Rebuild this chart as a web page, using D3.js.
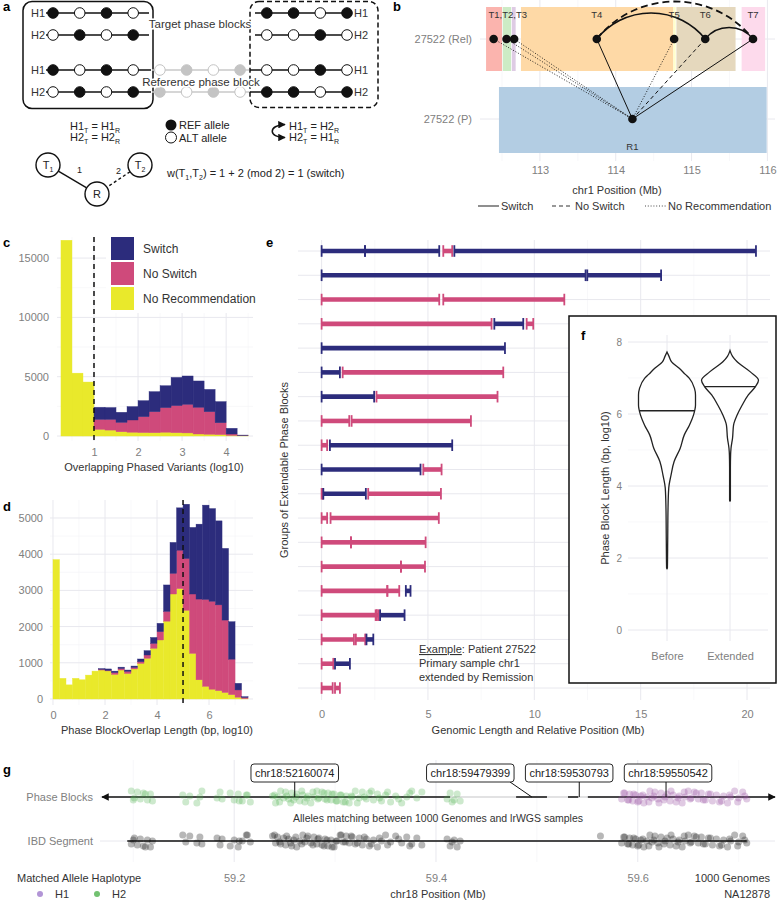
<!DOCTYPE html>
<html>
<head>
<meta charset="utf-8">
<script src="https://d3js.org/d3.v7.min.js"></script>
<style>
  body { margin: 0; background: #fff; }
  svg { font-family: "Liberation Sans", Arial, Helvetica, sans-serif; }
  .tick-label { fill: #808080; font-size: 11px; }
  .axis-title { fill: #333; font-size: 11px; }
  .tag { font-size: 13px; font-weight: bold; fill: #000; }
</style>
</head>
<body>
<svg id="fig" width="779" height="900"></svg>
<script>
// ---------------- data ----------------
// a: allele states per haplotype (1 = REF, 0 = ALT)
const aHapNames    = ["H1", "H2"];
const aTargetLeft  = ["1010", "0101"];
const aTargetRight = ["1101", "0010"];
const aRefLeft     = ["1010", "0101"];
const aRefMid      = ["0101", "1010"];
const aRefRight    = ["0010", "1101"];

// b: phase blocks on chr1 (Mb)
const bBlockNames = ["T1", "T2", "T3", "T4", "T5", "T6", "T7"];
const bBlockStart = [112.29, 112.51, 112.63, 112.75, 114.76, 114.80, 115.66];
const bBlockEnd   = [112.50, 112.62, 112.68, 114.76, 114.79, 115.58, 115.97];
const bBlockPos   = [112.39, 112.56, 112.66, 113.75, 114.77, 115.18, 115.81];
const bEdgeType   = ["norec", "norec", "norec", "switch", "norec", "noswitch", "switch"];
const bRef        = { name: "R1", start: 112.46, end: 115.99, pos: 114.22 };
const bArcs       = [["T4", "T6", "switch"], ["T6", "T7", "switch"], ["T4", "T7", "noswitch"]];
const bRows       = ["27522 (P)", "27522 (Rel)"];
const bTicks      = [113, 114, 115, 116];

// c: overlapping phased variants histogram (bin start, log10)
const cBins      = [0.25, 0.5, 0.75, 1.0, 1.25, 1.5, 1.75, 2.0, 2.25, 2.5, 2.75, 3.0, 3.25, 3.5, 3.75, 4.0, 4.25];
const cNoRec     = [16500, 5300, 4550, 560, 500, 360, 320, 290, 280, 320, 280, 260, 170, 150, 120, 50, 20];
const cNoSwitch  = [0, 0, 0, 840, 900, 790, 1030, 1340, 1770, 2070, 2280, 2410, 2250, 1900, 1000, 120, 20];
const cSwitch    = [0, 0, 0, 1020, 1000, 850, 1130, 1350, 1690, 1850, 2380, 2390, 2220, 1880, 1780, 480, 40];

// d: overlap length histogram (bin start, log10 bp)
const dBins     = [0, 0.25, 0.5, 0.75, 1, 1.25, 1.5, 1.75, 2, 2.25, 2.5, 2.75, 3, 3.25, 3.5, 3.75, 4, 4.25, 4.5, 4.75, 5, 5.25, 5.5, 5.75, 6, 6.25, 6.5, 6.75, 7, 7.25];
const dNoRec    = [3850, 570, 390, 570, 530, 660, 770, 800, 775, 680, 800, 705, 830, 985, 1125, 1400, 1630, 2150, 2900, 3050, 2450, 1260, 530, 350, 270, 230, 180, 120, 50, 10];
const dNoSwitch = [0, 0, 0, 0, 0, 0, 0, 20, 15, 50, 40, 60, 40, 45, 90, 135, 230, 270, 570, 1060, 1430, 1640, 2230, 2400, 2430, 2370, 2000, 980, 200, 30];
const dSwitch   = [0, 0, 0, 0, 0, 0, 0, 20, 40, 40, 40, 35, 40, 75, 120, 165, 230, 730, 855, 1170, 1500, 1840, 2070, 2605, 2560, 2320, 1980, 1035, 183, 24];

// e: extendable phase block groups [row, start Mb, end Mb, S = Switch / N = No Switch]
const eSegments = [
  [1, 0, 2.04, "S"], [1, 2.04, 5.53, "S"], [1, 5.72, 6.14, "N"], [1, 6.24, 20.42, "S"],
  [2, 0, 12.41, "S"], [2, 12.49, 15.96, "S"],
  [3, 0, 5.53, "N"], [3, 5.72, 11.41, "N"],
  [4, 0, 7.99, "N"], [4, 8.12, 9.48, "S"], [4, 9.64, 9.95, "N"],
  [5, 0, 8.62, "S"],
  [6, 0, 0.86, "S"], [6, 0.99, 8.54, "N"],
  [7, 0, 2.47, "S"], [7, 2.58, 8.27, "N"],
  [8, 0, 1.30, "N"], [8, 1.41, 7.02, "N"],
  [9, 0, 0.26, "N"], [9, 0.39, 6.14, "S"],
  [10, 0, 4.65, "S"], [10, 4.78, 5.64, "N"],
  [11, 0, 0.06, "N"], [11, 0.08, 2.08, "S"], [11, 2.19, 5.61, "N"],
  [12, 0, 0.26, "N"], [12, 0.42, 5.51, "N"],
  [13, 0, 1.38, "N"], [13, 1.38, 4.89, "N"],
  [14, 0, 3.73, "N"], [14, 3.73, 4.86, "N"],
  [15, 0, 3.09, "N"], [15, 3.09, 3.65, "N"], [15, 3.96, 4.18, "S"],
  [16, 0, 2.54, "N"], [16, 2.60, 2.68, "N"], [16, 2.75, 3.90, "S"],
  [17, 0, 1.52, "N"], [17, 1.61, 2.05, "N"], [17, 2.11, 2.43, "S"],
  [18, 0, 0.55, "N"], [18, 0.63, 1.33, "S"],
  [19, 0, 0.52, "N"], [19, 0.63, 0.86, "N"]
];
const eTicks = [0, 5, 10, 15, 20];

// f: violin outlines (log10 length, relative density)
const fGroups     = ["Before", "Extended"];
const fBeforeLen  = [1.70, 1.72, 2.5, 3.38, 3.94, 4.31, 4.68, 5.05, 5.42, 5.69, 5.97, 6.25, 6.53, 6.71, 6.99, 7.10, 7.27, 7.45, 7.60, 7.72];
const fBeforeDens = [0, 0.014, 0.025, 0.036, 0.061, 0.143, 0.25, 0.464, 0.607, 0.786, 0.929, 1, 1, 0.964, 0.786, 0.643, 0.429, 0.161, 0.071, 0];
const fExtLen     = [3.58, 3.6, 4.5, 4.86, 5.05, 5.33, 5.69, 5.97, 6.25, 6.53, 6.76, 6.94, 7.17, 7.45, 7.60, 7.76];
const fExtDens    = [0, 0.014, 0.014, 0.021, 0.036, 0.089, 0.125, 0.25, 0.429, 0.643, 0.893, 1, 0.714, 0.25, 0.089, 0];
const fMedian     = [6.09, 6.76];
const fTicks      = [0, 2, 4, 6, 8];

// g: phase blocks / IBD on chr18 (Mb)
const gBlockStart = [59.069, 59.4794, 59.5308, 59.5505];
const gBlockEnd   = [59.414, 59.510, 59.541, 59.736];
const gLabels     = ["chr18:52160074", "chr18:59479399", "chr18:59530793", "chr18:59550542"];
const gLabelPos   = [59.260, 59.434, 59.532, 59.630];
const gLabelAnchor= [59.260, 59.495, 59.542, 59.628];
const gH2Points = [59.098, 59.101, 59.104, 59.107, 59.110, 59.114, 59.117, 59.119,
  59.149, 59.152, 59.156, 59.163, 59.166, 59.168, 59.183, 59.186, 59.188,
  59.196, 59.200, 59.204, 59.208, 59.212, 59.216,
  59.238, 59.241, 59.243, 59.246, 59.249, 59.251, 59.254, 59.257, 59.259, 59.262, 59.265, 59.268,
  59.270, 59.273, 59.276, 59.279, 59.282, 59.284, 59.287, 59.290, 59.293, 59.296, 59.299, 59.302,
  59.305, 59.308, 59.311, 59.314, 59.317, 59.320, 59.324, 59.327, 59.331, 59.334, 59.338, 59.342,
  59.346, 59.350, 59.355, 59.360, 59.366, 59.371, 59.376, 59.381, 59.386,
  59.411, 59.414, 59.418, 59.421, 59.424,
  59.240, 59.245, 59.252, 59.256, 59.261, 59.267, 59.272, 59.278, 59.283, 59.289, 59.292, 59.297,
  59.301, 59.306, 59.310, 59.316, 59.322, 59.329, 59.336, 59.344, 59.352, 59.363, 59.374,
  59.100, 59.112, 59.205, 59.213, 59.416];
const gH1Points = [59.584, 59.587, 59.590, 59.592, 59.595, 59.598, 59.600, 59.603, 59.606, 59.609,
  59.612, 59.614, 59.617, 59.620, 59.623, 59.626, 59.629, 59.632, 59.635, 59.638, 59.641, 59.644,
  59.647, 59.650, 59.653, 59.656, 59.660, 59.663, 59.667, 59.670, 59.674, 59.678, 59.681, 59.685,
  59.689, 59.692, 59.696, 59.700, 59.704, 59.708,
  59.586, 59.591, 59.596, 59.601, 59.605, 59.611, 59.616, 59.621, 59.627, 59.633, 59.640, 59.646,
  59.652, 59.658, 59.665, 59.672, 59.683, 59.691, 59.699, 59.706];
const gIbdExtra = [59.563];
const gIbdRange = [59.094, 59.708];
const gTicks = [59.2, 59.4, 59.6];

// ---------------- helpers ----------------
const svg = d3.select("#fig");
const NAVY = "#2c2c7c", PINK = "#cf4a7b", YEL = "#e9e92b";
const GRID = "#e8e8ee", GRID_MINOR = "#f3f3f6";

function vGrid(g, scale, vals, y0, y1, minor) {
  g.append("g").selectAll("line").data(vals).join("line")
    .attr("x1", d => scale(d)).attr("x2", d => scale(d))
    .attr("y1", y0).attr("y2", y1)
    .attr("stroke", minor ? GRID_MINOR : GRID).attr("stroke-width", minor ? 0.6 : 1);
}
function hGrid(g, scale, vals, x0, x1, minor) {
  g.append("g").selectAll("line").data(vals).join("line")
    .attr("y1", d => scale(d)).attr("y2", d => scale(d))
    .attr("x1", x0).attr("x2", x1)
    .attr("stroke", minor ? GRID_MINOR : GRID).attr("stroke-width", minor ? 0.6 : 1);
}
function bottomAxis(g, scale, vals, yc, fmt) {
  const a = g.append("g").attr("transform", `translate(0,${yc - 4})`)
    .call(d3.axisBottom(scale).tickValues(vals).tickSize(0).tickPadding(0).tickFormat(fmt || (d => d)));
  a.select(".domain").remove();
  a.attr("font-family", null).attr("font-size", null);
  a.selectAll("text").attr("class", "tick-label");
  return a;
}
function leftAxis(g, scale, vals, xr, fmt) {
  const a = g.append("g").attr("transform", `translate(${xr},0)`)
    .call(d3.axisLeft(scale).tickValues(vals).tickSize(0).tickPadding(0).tickFormat(fmt || (d => d)));
  a.select(".domain").remove();
  a.attr("font-family", null).attr("font-size", null);
  a.selectAll("text").attr("class", "tick-label");
  return a;
}
function title(g, txt, x, y, rot) {
  const t = g.append("text").attr("class", "axis-title").attr("text-anchor", "middle")
    .attr("dominant-baseline", "central").text(txt);
  if (rot) t.attr("transform", `translate(${x},${y}) rotate(-90)`);
  else t.attr("x", x).attr("y", y);
  return t;
}
const defs = svg.append("defs");
defs.append("marker").attr("id", "arr").attr("viewBox", "0 0 10 10").attr("refX", 9).attr("refY", 5)
  .attr("markerWidth", 5).attr("markerHeight", 5).attr("orient", "auto-start-reverse")
  .append("path").attr("d", "M0,0L10,5L0,10z").attr("fill", "#111");

// ---------------- panel a ----------------
const ga = svg.append("g");
const aSiteX = d3.scaleLinear().domain([0, 11]).range([53, 347]);
ga.append("rect").attr("x", 23).attr("y", 1.5).attr("width", 130).attr("height", 107).attr("rx", 9)
  .attr("fill", "none").attr("stroke", "#111").attr("stroke-width", 1.5);
ga.append("rect").attr("x", 250).attr("y", 1.5).attr("width", 128).attr("height", 106).attr("rx", 9)
  .attr("fill", "none").attr("stroke", "#111").attr("stroke-width", 1.5).attr("stroke-dasharray", "5,3");

function hapLine(x1, x2, y, col) {
  ga.append("line").attr("x1", x1).attr("x2", x2).attr("y1", y).attr("y2", y)
    .attr("stroke", col).attr("stroke-width", 1.6);
}
function alleles(states, offset, y, grey) {
  const col = grey ? "#c4c4c4" : "#111";
  ga.append("g").selectAll("circle").data(states.split("")).join("circle")
    .attr("cx", (d, i) => aSiteX(offset + i)).attr("cy", y).attr("r", 5.3)
    .attr("fill", d => d === "1" ? col : "#fff").attr("stroke", col).attr("stroke-width", 1);
}
function hapLabel(txt, x, y, anchor) {
  ga.append("text").attr("x", x).attr("y", y).attr("dy", "0.35em").attr("text-anchor", anchor)
    .attr("font-size", 11).attr("fill", "#333").text(txt);
}
const aTargetY = [13, 35], aRefY = [70, 92];
aHapNames.forEach((h, i) => {
  hapLine(46, 149, aTargetY[i], "#111");
  hapLine(255, 352, aTargetY[i], "#111");
  hapLine(46, 151, aRefY[i], "#111");
  hapLine(152, 249, aRefY[i], "#c8c8c8");
  hapLine(250, 352, aRefY[i], "#111");
  alleles(aTargetLeft[i], 0, aTargetY[i]);
  alleles(aTargetRight[i], 8, aTargetY[i]);
  alleles(aRefLeft[i], 0, aRefY[i]);
  alleles(aRefMid[i], 4, aRefY[i], true);
  alleles(aRefRight[i], 8, aRefY[i]);
  hapLabel(h, 45, aTargetY[i], "end");
  hapLabel(h, 45, aRefY[i], "end");
  hapLabel(h, 354, aTargetY[i], "start");
  hapLabel(h, 354, aRefY[i], "start");
});
[["Target phase blocks", 200, 24], ["Reference phase block", 201, 82]].forEach(([t, x, y]) => {
  ga.append("text").attr("x", x).attr("y", y).attr("dy", "0.35em").attr("text-anchor", "middle")
    .attr("font-size", 11.5).attr("fill", "#333").attr("stroke", "#fff").attr("stroke-width", 3)
    .attr("paint-order", "stroke").text(t);
});
function subText(g, x, y, parts, size) {
  const t = g.append("text").attr("x", x).attr("y", y).attr("font-size", size || 11).attr("fill", "#222");
  let low = false;
  parts.forEach(([s, sub]) => {
    if (sub) { t.append("tspan").attr("font-size", 7).attr("dy", low ? 0 : 2.5).text(s); low = true; }
    else { t.append("tspan").attr("dy", low ? -2.5 : 0).text(s); low = false; }
  });
  return t;
}
subText(ga, 70, 130, [["H1"], ["T", 1], [" = H1"], ["R", 1]]);
subText(ga, 70, 141, [["H2"], ["T", 1], [" = H2"], ["R", 1]]);
subText(ga, 289, 130, [["H1"], ["T", 1], [" = H2"], ["R", 1]]);
subText(ga, 289, 141, [["H2"], ["T", 1], [" = H1"], ["R", 1]]);
ga.append("circle").attr("cx", 171).attr("cy", 125).attr("r", 5.5).attr("fill", "#111");
ga.append("circle").attr("cx", 171).attr("cy", 137.5).attr("r", 5.5).attr("fill", "#fff").attr("stroke", "#111");
ga.append("text").attr("x", 179).attr("y", 129).attr("font-size", 11).attr("fill", "#222").text("REF allele");
ga.append("text").attr("x", 179).attr("y", 141.5).attr("font-size", 11).attr("fill", "#222").text("ALT allele");
ga.append("path").attr("d", "M285,124.5 C268,125 268,137.5 285,137.5").attr("fill", "none")
  .attr("stroke", "#111").attr("stroke-width", 1.5)
  .attr("marker-start", "url(#arr)").attr("marker-end", "url(#arr)");

// graph of T1 - R - T2
const aNodes = { T1: [48, 165], T2: [140, 165], R: [97, 194] };
function edge(a, b, dash) {
  const [x1, y1] = aNodes[a], [x2, y2] = aNodes[b];
  const L = Math.hypot(x2 - x1, y2 - y1), ux = (x2 - x1) / L, uy = (y2 - y1) / L;
  ga.append("line").attr("x1", x1 + ux * 12).attr("y1", y1 + uy * 12)
    .attr("x2", x2 - ux * 12).attr("y2", y2 - uy * 12)
    .attr("stroke", "#111").attr("stroke-width", 1.4).attr("stroke-dasharray", dash || null);
}
edge("T1", "R");
edge("T2", "R", "3,2.5");
Object.entries(aNodes).forEach(([k, [x, y]]) => {
  ga.append("circle").attr("cx", x).attr("cy", y).attr("r", 12).attr("fill", "#fff")
    .attr("stroke", "#111").attr("stroke-width", 1.4);
  const t = ga.append("text").attr("x", x).attr("y", y + 4).attr("text-anchor", "middle")
    .attr("font-size", 11).attr("fill", "#222");
  t.append("tspan").text(k[0]);
  if (k.length > 1) t.append("tspan").attr("font-size", 7).attr("dy", 2.5).text(k[1]);
});
ga.append("text").attr("x", 77).attr("y", 173).attr("font-size", 9).attr("fill", "#222").text("1");
ga.append("text").attr("x", 116).attr("y", 174).attr("font-size", 9).attr("fill", "#222").text("2");
subText(ga, 167, 177, [["w(T"], ["1", 1], [",T"], ["2", 1], [") = 1 + 2 (mod 2) = 1 (switch)"]]);

// ---------------- panel b ----------------
const gb = svg.append("g");
const bx = d3.scaleLinear().domain([112.21, 116.1]).range([480, 775]);
const by = d3.scalePoint().domain(bRows).range([119, 39]);
const bFill = d3.scaleOrdinal().domain(["T1", "R1", "T2", "T3", "T4", "T5", "T6", "T7"]).range(d3.schemePastel1);
vGrid(gb, bx, [112.5, 113.5, 114.5, 115.5], 0, 161, true);
vGrid(gb, bx, bTicks, 0, 161);
hGrid(gb, by, bRows, 480, 775);
const relY = by("27522 (Rel)"), pY = by("27522 (P)");
gb.append("g").selectAll("rect").data(bBlockNames).join("rect")
  .attr("x", (d, i) => bx(bBlockStart[i])).attr("width", (d, i) => bx(bBlockEnd[i]) - bx(bBlockStart[i]))
  .attr("y", relY - 32).attr("height", 64).attr("fill", d => bFill(d));
gb.append("rect").attr("x", bx(bRef.start)).attr("width", bx(bRef.end) - bx(bRef.start))
  .attr("y", pY - 32).attr("height", 66).attr("fill", bFill("R1"));
const bDash = { switch: null, noswitch: "4,3", norec: "1,1.8" };
bBlockNames.forEach((n, i) => {
  gb.append("line").attr("x1", bx(bBlockPos[i])).attr("y1", relY).attr("x2", bx(bRef.pos)).attr("y2", pY)
    .attr("stroke", "#111").attr("stroke-width", bEdgeType[i] === "norec" ? 0.9 : 1)
    .attr("stroke-dasharray", bDash[bEdgeType[i]]);
});
bArcs.forEach(([a, b, type]) => {
  const x1 = bx(bBlockPos[bBlockNames.indexOf(a)]), x2 = bx(bBlockPos[bBlockNames.indexOf(b)]);
  const c = x2 - x1, s = 0.24 * c, r = (c * c / 4 + s * s) / (2 * s);
  gb.append("path").attr("d", `M${x1},${relY} A${r},${r} 0 0 1 ${x2},${relY}`)
    .attr("fill", "none").attr("stroke", "#111").attr("stroke-width", type === "switch" ? 1.6 : 1.8)
    .attr("stroke-dasharray", type === "switch" ? null : "7,4");
});
gb.append("g").selectAll("circle").data(bBlockPos).join("circle")
  .attr("cx", d => bx(d)).attr("cy", relY).attr("r", 4.3).attr("fill", "#111");
gb.append("circle").attr("cx", bx(bRef.pos)).attr("cy", pY).attr("r", 4.3).attr("fill", "#111");
const bLab = [["T1,T2,T3", d3.mean(bBlockPos.slice(0, 3)) + 0.04]].concat(bBlockNames.slice(3).map((n, i) => [n, bBlockPos[i + 3]]));
gb.append("g").selectAll("text").data(bLab).join("text")
  .attr("x", d => bx(d[1])).attr("y", 15).attr("dy", "0.35em").attr("text-anchor", "middle")
  .attr("font-size", 9.5).attr("fill", "#333").text(d => d[0]);
gb.append("text").attr("x", bx(bRef.pos)).attr("y", 147).attr("dy", "0.35em").attr("text-anchor", "middle")
  .attr("font-size", 9.5).attr("fill", "#333").text(bRef.name);
leftAxis(gb, by, bRows, 472).selectAll("text").attr("fill", "#6a6a6a");
bottomAxis(gb, bx, bTicks, 170);
title(gb, "chr1 Position (Mb)", 617, 190);
const bLegend = [["Switch", 478, null], ["No Switch", 552, "4,3"], ["No Recommendation", 645, "1,1.8"]];
bLegend.forEach(([t, x, dash]) => {
  gb.append("line").attr("x1", x).attr("x2", x + 21).attr("y1", 206).attr("y2", 206)
    .attr("stroke", "#333").attr("stroke-width", dash === "1,1.8" ? 0.9 : 1.1).attr("stroke-dasharray", dash);
  gb.append("text").attr("x", x + 23).attr("y", 206).attr("dy", "0.35em").attr("font-size", 11)
    .attr("fill", "#333").text(t);
});

// ---------------- panel c ----------------
const gc = svg.append("g");
const cx = d3.scaleLinear().domain([0.16, 4.61]).range([57, 253]);
const cy = d3.scaleLinear().domain([-420, 16776]).range([441, 237]);
hGrid(gc, cy, [2500, 7500, 12500], 57, 253, true);
vGrid(gc, cx, [0.5, 1.5, 2.5, 3.5, 4.5], 237, 441, true);
hGrid(gc, cy, [0, 5000, 10000, 15000], 57, 253);
vGrid(gc, cx, [1, 2, 3, 4], 237, 441);
const stackKeys = ["NoRec", "NoSwitch", "Switch"];
const fillOf = { NoRec: YEL, NoSwitch: PINK, Switch: NAVY };
function stackedBars(g, bins, rec, nos, sw, xs, ys, w) {
  const table = bins.map((b, i) => ({ bin: b, NoRec: rec[i], NoSwitch: nos[i], Switch: sw[i] }));
  g.append("g").selectAll("g").data(d3.stack().keys(stackKeys)(table)).join("g")
    .attr("fill", d => fillOf[d.key]).attr("stroke", d => fillOf[d.key]).attr("stroke-width", 0.4)
    .selectAll("rect").data(d => d.filter(v => v[1] > v[0])).join("rect")
    .attr("x", d => xs(d.data.bin)).attr("width", d => xs(d.data.bin + w) - xs(d.data.bin))
    .attr("y", d => ys(d[1])).attr("height", d => ys(d[0]) - ys(d[1]));
}
// legend background hides grid
gc.append("rect").attr("x", 106).attr("y", 234).attr("width", 150).attr("height", 79).attr("fill", "#fff");
stackedBars(gc, cBins, cNoRec, cNoSwitch, cSwitch, cx, cy, 0.25);
gc.append("line").attr("x1", cx(1)).attr("x2", cx(1)).attr("y1", 237).attr("y2", 441)
  .attr("stroke", "#111").attr("stroke-width", 1.5).attr("stroke-dasharray", "5,4");
const cLegend = [["Switch", NAVY], ["No Switch", PINK], ["No Recommendation", YEL]];
cLegend.forEach(([t, col], i) => {
  gc.append("rect").attr("x", 111).attr("y", 237 + i * 25).attr("width", 23).attr("height", 23).attr("fill", col);
  gc.append("text").attr("x", 143).attr("y", 248.5 + i * 25).attr("dy", "0.35em").attr("font-size", 12)
    .attr("fill", "#333").text(t);
});
leftAxis(gc, cy, [0, 5000, 10000, 15000], 49);
bottomAxis(gc, cx, [1, 2, 3, 4], 452);
title(gc, "Overlapping Phased Variants (log10)", 154, 467);

// ---------------- panel d ----------------
const gd = svg.append("g");
const dx = d3.scaleLinear().domain([-0.115, 7.69]).range([50, 253]);
const dy = d3.scaleLinear().domain([-166, 5497]).range([705, 500]);
hGrid(gd, dy, [500, 1500, 2500, 3500, 4500], 50, 253, true);
vGrid(gd, dx, [1, 3, 5, 7], 500, 705, true);
hGrid(gd, dy, [0, 1000, 2000, 3000, 4000, 5000], 50, 253);
vGrid(gd, dx, [0, 2, 4, 6], 500, 705);
stackedBars(gd, dBins, dNoRec, dNoSwitch, dSwitch, dx, dy, 0.25);
gd.append("line").attr("x1", dx(5)).attr("x2", dx(5)).attr("y1", 500).attr("y2", 705)
  .attr("stroke", "#111").attr("stroke-width", 1.5).attr("stroke-dasharray", "5,4");
leftAxis(gd, dy, [0, 1000, 2000, 3000, 4000, 5000], 43);
bottomAxis(gd, dx, [0, 2, 4, 6], 715);
title(gd, "Phase BlockOverlap Length (bp, log10)", 157, 730);

// ---------------- panel e ----------------
const ge = svg.append("g");
const ex = d3.scaleLinear().domain([-1.11, 21.08]).range([298, 770]);
const ey = d3.scalePoint().domain(d3.range(1, 20)).range([251, 688]);
vGrid(ge, ex, [2.5, 7.5, 12.5, 17.5], 240, 700, true);
vGrid(ge, ex, eTicks, 240, 700);
hGrid(ge, ey, d3.range(1, 20), 298, 770);
const segCol = { S: NAVY, N: PINK };
const segs = ge.append("g").selectAll("g").data(eSegments).join("g");
segs.append("line").attr("x1", d => ex(d[1])).attr("x2", d => ex(d[2]))
  .attr("y1", d => ey(d[0])).attr("y2", d => ey(d[0]))
  .attr("stroke", d => segCol[d[3]]).attr("stroke-width", 4.6);
segs.selectAll("line.cap").data(d => [[d[1], d], [d[2], d]]).join("line").attr("class", "cap")
  .attr("x1", c => ex(c[0])).attr("x2", c => ex(c[0]))
  .attr("y1", c => ey(c[1][0]) - 5.8).attr("y2", c => ey(c[1][0]) + 5.8)
  .attr("stroke", c => segCol[c[1][3]]).attr("stroke-width", 1.8);
bottomAxis(ge, ex, eTicks, 714);
title(ge, "Genomic Length and Relative Position (Mb)", 538, 730);
title(ge, "Groups of Extendable Phase Blocks", 284, 470, true);
const exText = ge.append("text").attr("x", 419).attr("y", 653).attr("font-size", 11).attr("fill", "#333");
exText.append("tspan").attr("text-decoration", "underline").text("Example");
exText.append("tspan").text(": Patient 27522");
ge.append("text").attr("x", 419).attr("y", 667).attr("font-size", 11).attr("fill", "#333").text("Primary sample chr1");
ge.append("text").attr("x", 419).attr("y", 681).attr("font-size", 11).attr("fill", "#333").text("extended by Remission");

// ---------------- panel f ----------------
const gf = svg.append("g");
gf.append("rect").attr("x", 569).attr("y", 316).attr("width", 207).attr("height", 367)
  .attr("fill", "#fff").attr("stroke", "#111").attr("stroke-width", 1.5);
const fy = d3.scaleLinear().domain([0, 8]).range([630, 342]);
const fx = d3.scalePoint().domain(fGroups).range([667, 730]);
const fw = d3.scaleLinear().domain([0, 1]).range([0, 28.5]);
hGrid(gf, fy, [1, 3, 5, 7], 628, 768, true);
hGrid(gf, fy, fTicks, 628, 768);
vGrid(gf, fx, fGroups, 335, 641);
const fShapes = [[fBeforeLen, fBeforeDens], [fExtLen, fExtDens]];
fGroups.forEach((grp, k) => {
  const [len, dens] = fShapes[k];
  const pts = len.map((v, i) => [v, dens[i]]);
  const c = fx(grp);
  gf.append("path").datum(pts)
    .attr("d", d3.area().curve(d3.curveMonotoneY).y(d => fy(d[0]))
      .x0(d => c - fw(d[1])).x1(d => c + fw(d[1])))
    .attr("fill", "#fff").attr("stroke", "#222").attr("stroke-width", 1.3);
  const dAt = d3.scaleLinear().domain(len).range(dens)(fMedian[k]);
  gf.append("line").attr("x1", c - fw(dAt)).attr("x2", c + fw(dAt))
    .attr("y1", fy(fMedian[k])).attr("y2", fy(fMedian[k]))
    .attr("stroke", "#222").attr("stroke-width", 1.3);
});
leftAxis(gf, fy, fTicks, 622).selectAll("text").style("font-size", "10px").attr("fill", "#999");
bottomAxis(gf, fx, fGroups, 656).selectAll("text").attr("fill", "#808080");
title(gf, "Phase Block Length (bp, log10)", 605, 488, true);

// ---------------- panel g ----------------
const gg = svg.append("g");
const gx = d3.scaleLinear().domain([59.067, 59.736]).range([100, 775]);
const gy = d3.scalePoint().domain(["IBD Segment", "Phase Blocks"]).range([841, 797]);
vGrid(gg, gx, [59.1, 59.3, 59.5, 59.7], 760, 862, true);
vGrid(gg, gx, gTicks, 760, 862);
hGrid(gg, gy, ["IBD Segment", "Phase Blocks"], 100, 775);
const pbY = gy("Phase Blocks"), ibdY = gy("IBD Segment");
const jit = i => ((i * 7) % 13 - 6) * 1.0;
gg.append("line").attr("x1", gx(gBlockEnd[0])).attr("x2", gx(gBlockStart[3])).attr("y1", pbY).attr("y2", pbY)
  .attr("stroke", "#dcdcdc").attr("stroke-width", 1.5);
gg.append("g").selectAll("line").data(gBlockStart).join("line")
  .attr("x1", d => gx(d)).attr("x2", (d, i) => gx(gBlockEnd[i])).attr("y1", pbY).attr("y2", pbY)
  .attr("stroke", "#111").attr("stroke-width", 1.5)
  .attr("marker-start", (d, i) => i === 0 ? "url(#arr)" : null)
  .attr("marker-end", (d, i) => i === 3 ? "url(#arr)" : null);
gg.append("line").attr("x1", gx(gIbdRange[0])).attr("x2", gx(gIbdRange[1])).attr("y1", ibdY).attr("y2", ibdY)
  .attr("stroke", "#111").attr("stroke-width", 1.5);
gg.append("g").selectAll("circle").data(gH2Points).join("circle")
  .attr("cx", d => gx(d)).attr("cy", (d, i) => pbY + jit(i)).attr("r", 3.5)
  .attr("fill", "#4daf4a").attr("fill-opacity", 0.28);
gg.append("g").selectAll("circle").data(gH1Points).join("circle")
  .attr("cx", d => gx(d)).attr("cy", (d, i) => pbY + jit(i + 3)).attr("r", 3.5)
  .attr("fill", "#984ea3").attr("fill-opacity", 0.3);
gg.append("g").selectAll("circle").data(gH2Points.concat(gIbdExtra, gH1Points)).join("circle")
  .attr("cx", d => gx(d)).attr("cy", (d, i) => ibdY + jit(i + 5)).attr("r", 3.5)
  .attr("fill", "#111").attr("fill-opacity", 0.3);
gLabels.forEach((lab, i) => {
  const cxL = gx(gLabelPos[i]);
  const t = gg.append("text").attr("x", cxL).attr("y", 773).attr("dy", "0.35em").attr("text-anchor", "middle")
    .attr("font-size", 11).attr("fill", "#222").text(lab);
  const w = t.node().getComputedTextLength() + 8;
  const ax = gx(gLabelAnchor[i]);
  const sx = Math.max(cxL - w / 2 + 4, Math.min(cxL + w / 2 - 4, ax));
  gg.insert("line", "text").attr("x1", sx).attr("y1", 782).attr("x2", ax).attr("y2", pbY)
    .attr("stroke", "#111").attr("stroke-width", 1);
  gg.insert("rect", "text").attr("x", cxL - w / 2).attr("y", 764).attr("width", w).attr("height", 18).attr("rx", 3)
    .attr("fill", "#fff").attr("stroke", "#111").attr("stroke-width", 0.9);
});
gg.append("text").attr("x", 438).attr("y", 818).attr("dy", "0.35em").attr("text-anchor", "middle")
  .attr("font-size", 10.5).attr("fill", "#333").text("Alleles matching between 1000 Genomes and lrWGS samples");
leftAxis(gg, gy, ["IBD Segment", "Phase Blocks"], 93).selectAll("text").attr("fill", "#6a6a6a");
bottomAxis(gg, gx, gTicks, 878);
title(gg, "chr18 Position (Mb)", 438, 894);
gg.append("text").attr("x", 17).attr("y", 878).attr("dy", "0.35em").attr("font-size", 11).attr("fill", "#333").text("Matched Allele Haplotype");
[["H1", "#b295d6", 40], ["H2", "#72c170", 97]].forEach(([t, col, x]) => {
  gg.append("circle").attr("cx", x).attr("cy", 894).attr("r", 3).attr("fill", col);
  gg.append("text").attr("x", x + 15).attr("y", 894).attr("dy", "0.35em").attr("font-size", 11).attr("fill", "#333").text(t);
});
gg.append("text").attr("x", 770).attr("y", 878).attr("dy", "0.35em").attr("text-anchor", "end").attr("font-size", 11).attr("fill", "#333").text("1000 Genomes");
gg.append("text").attr("x", 770).attr("y", 894).attr("dy", "0.35em").attr("text-anchor", "end").attr("font-size", 11).attr("fill", "#333").text("NA12878");

// ---------------- panel tags ----------------
[["a", 3, 11], ["b", 393, 11], ["c", 3, 247], ["d", 3, 511], ["e", 266, 247], ["f", 581, 340], ["g", 3, 774]]
  .forEach(([t, x, y]) => svg.append("text").attr("class", "tag").attr("x", x).attr("y", y).text(t));
</script>
</body>
</html>
